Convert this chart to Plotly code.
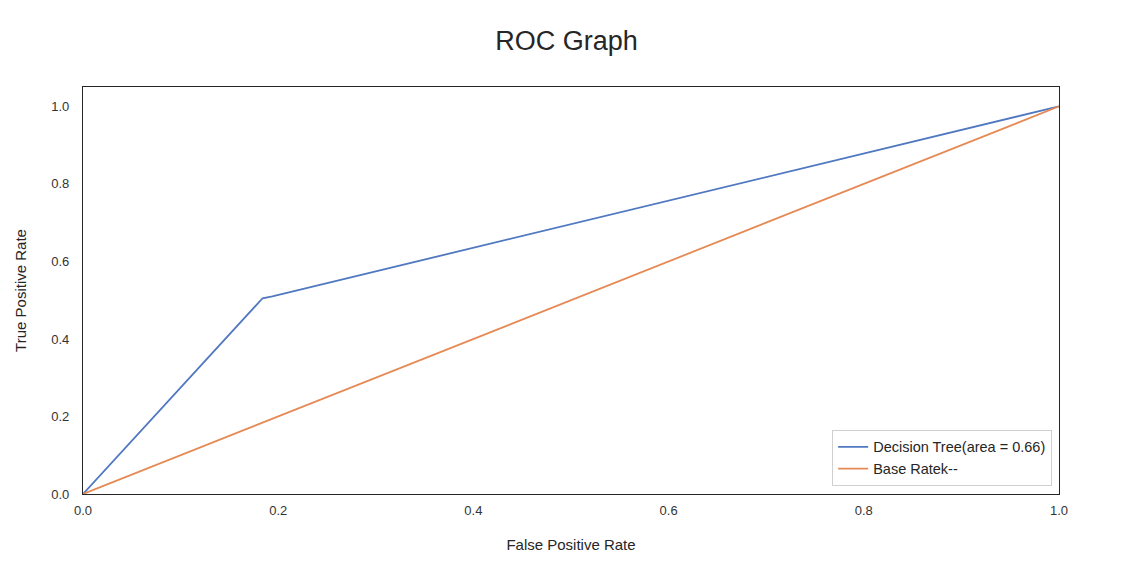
import plotly.graph_objects as go

fpr = [0.0, 0.184, 0.194, 1.0]
tpr = [0.0, 0.505, 0.510, 1.0]
base_x = [0.0, 1.0]
base_y = [0.0, 1.0]
tick_vals = [0.0, 0.2, 0.4, 0.6, 0.8, 1.0]
tick_text = ["0.0", "0.2", "0.4", "0.6", "0.8", "1.0"]

fig = go.Figure()
fig.add_trace(go.Scatter(x=fpr, y=tpr, mode="lines", name="Decision Tree(area = 0.66)",
                         line=dict(color="#5078C0", width=1.8)))
fig.add_trace(go.Scatter(x=base_x, y=base_y, mode="lines", name="Base Ratek--",
                         line=dict(color="#E58A55", width=1.8)))

axis_common = dict(showgrid=False, zeroline=False, showline=True, linecolor="#262626",
                   linewidth=1.3, mirror=True, ticks="", tickfont=dict(size=13, color="#333333"),
                   tickvals=tick_vals, ticktext=tick_text)

fig.update_layout(
    width=1133, height=565,
    paper_bgcolor="white", plot_bgcolor="white",
    font=dict(family="Liberation Sans, Arial, sans-serif", color="#262626"),
    margin=dict(l=83, r=74, t=87, b=71),
    title=dict(text="ROC Graph", x=0.5, xanchor="center", y=0.928, yanchor="middle",
               font=dict(size=27, color="#262626")),
    xaxis=dict(range=[0, 1], ticklabelstandoff=4,
               title=dict(text="False Positive Rate", font=dict(size=15), standoff=22),
               **axis_common),
    yaxis=dict(range=[0, 1.05], ticklabelstandoff=10,
               title=dict(text="True Positive Rate", font=dict(size=15), standoff=20),
               **axis_common),
    legend=dict(x=0.993, y=0.02, xanchor="right", yanchor="bottom",
                bordercolor="#D0D0D0", borderwidth=1, bgcolor="white",
                font=dict(size=14.5, color="#262626"), itemwidth=30),
    showlegend=True,
)

fig.write_html("out.html")
